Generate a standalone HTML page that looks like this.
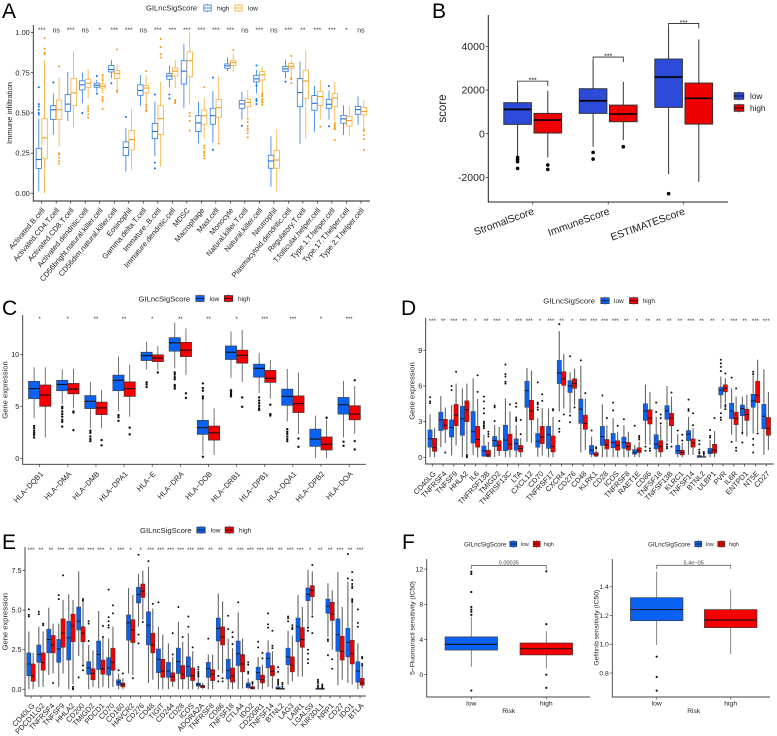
<!DOCTYPE html>
<html lang="en">
<head>
<meta charset="utf-8">
<title>Immune infiltration panels</title>
<style>
html,body{margin:0;padding:0;background:#fff;}
#figure{display:block;width:777px;height:736px;font-family:"Liberation Sans",Arial,sans-serif;filter:blur(0.3px);}
text{font-family:"Liberation Sans",Arial,sans-serif;}
</style>
</head>
<body>
<svg id="figure" xmlns="http://www.w3.org/2000/svg" width="777" height="736" viewBox="0 0 777 736">
  <rect x="0" y="0" width="777" height="736" fill="#fff"/>
  <text x="2" y="18" font-size="21" fill="#000">A</text>
  <text x="432" y="18" font-size="21" fill="#000">B</text>
  <text x="2" y="315" font-size="21" fill="#000">C</text>
  <text x="401" y="315" font-size="21" fill="#000">D</text>
  <text x="2" y="549" font-size="21" fill="#000">E</text>
  <text x="402" y="549" font-size="21" fill="#000">F</text>
</svg>
<script>
// Each box row: [q1, median, q3, whiskerLow, whiskerHigh, outliers]
const aCategories = ["Activated.B.cell","Activated.CD4.T.cell","Activated.CD8.T.cell","Activated.dendritic.cell","CD56bright.natural.killer.cell","CD56dim.natural.killer.cell","Eosinophil","Gamma.delta.T.cell","Immature..B.cell","Immature.dendritic.cell","MDSC","Macrophage","Mast.cell","Monocyte","Natural.killer.T.cell","Natural.killer.cell","Neutrophil","Plasmacytoid.dendritic.cell","Regulatory.T.cell","T.follicular.helper.cell","Type.1.T.helper.cell","Type.17.T.helper.cell","Type.2.T.helper.cell"];
const aSignificance = ["***","ns","***","ns","*","***","***","ns","***","***","***","***","***","***","ns","***","ns","***","**","***","***","*","ns"];
const aYTicks = [0,0.25,0.5,0.75,1];
const aHigh = [
[.155,.21,.28,.015,.465,[.66,.555,.54,.52,.50,.49]],
[.46,.52,.545,.365,.62,[.69]],
[.51,.555,.615,.45,.755,[]],
[.643,.675,.70,.56,.75,[.50]],
[.66,.672,.685,.63,.705,[.73,.62]],
[.755,.77,.795,.715,.83,[.685]],
[.235,.285,.32,.135,.405,[.475]],
[.61,.64,.675,.545,.735,[]],
[.34,.385,.435,.23,.57,[.615,.19,.155]],
[.71,.73,.745,.66,.795,[.615,.59]],
[.68,.76,.825,.53,.93,[]],
[.384,.438,.483,.311,.57,[]],
[.43,.483,.529,.315,.635,[.72,.27]],
[.778,.793,.805,.761,.846,[]],
[.529,.556,.577,.46,.63,[.42]],
[.693,.712,.734,.622,.768,[.795,.671,.585,.574,.556]],
[.156,.201,.237,.041,.355,[]],
[.757,.774,.79,.715,.83,[.695]],
[.539,.627,.714,.307,.82,[]],
[.517,.56,.608,.384,.668,[]],
[.529,.554,.585,.459,.64,[.668,.417]],
[.436,.463,.485,.363,.548,[]],
[.492,.521,.541,.425,.602,[]]];
const aLow = [
[.215,.345,.465,0,.83,[.965,.90,.875,.865]],
[.46,.52,.58,.29,.72,[.79,.25,.24,.22,.20,.185]],
[.545,.625,.715,.41,.885,[]],
[.66,.685,.71,.59,.77,[.54,.525,.51,.49,.47]],
[.655,.667,.68,.62,.705,[.735,.72,.705,.60,.585,.575,.525]],
[.715,.745,.765,.645,.80,[.895,.64,.63]],
[.27,.335,.39,.145,.525,[]],
[.625,.655,.67,.55,.735,[.76,.55,.535,.52,.51]],
[.365,.465,.545,.165,.695,[.96,.91,.865,.845]],
[.73,.76,.78,.655,.83,[.58,.57,.56]],
[.725,.825,.88,.55,1,[.50,.48,.45,.39]],
[.43,.483,.519,.342,.591,[.66,.297,.28,.259,.249,.234,.218]],
[.473,.533,.585,.322,.73,[.309]],
[.795,.813,.828,.757,.871,[.892]],
[.539,.566,.587,.477,.643,[.465,.444,.419,.404,.39,.373,.349]],
[.705,.737,.757,.622,.788,[.622,.612,.602,.587,.574,.564,.55]],
[.156,.207,.268,.01,.398,[]],
[.778,.79,.807,.73,.83,[.855,.72,.71,.685]],
[.591,.699,.766,.342,.89,[]],
[.548,.602,.635,.459,.705,[.415]],
[.539,.593,.62,.45,.695,[.436,.425,.415,.405,.398,.332]],
[.419,.452,.479,.357,.539,[]],
[.488,.51,.535,.405,.581,[.398,.388,.363,.338,.27]]];

const bCategories = ["StromalScore","ImmuneScore","ESTIMATEScore"];
const bSignificance = ["***","***","***"];
const bBrackets = [2410,3510,5050];
const bYTicks = [-2000,0,2000,4000];
const bLow = [
[427,1115,1420,-1020,2180,[-1085,-1175,-1280,-1590]],
[930,1510,2060,-600,3300,[-855,-1160]],
[1205,2595,3420,-1860,4825,[-2750]]];
const bHigh = [
[30,625,930,-1085,1970,[-1435,-1635]],
[550,900,1310,-290,2380,[-595]],
[440,1620,2320,-2200,4320,[]]];

const cCategories = ["HLA\u2212DQB1","HLA\u2212DMA","HLA\u2212DMB","HLA\u2212DPA1","HLA\u2212E","HLA\u2212DRA","HLA\u2212DOB","HLA\u2212DRB1","HLA\u2212DPB1","HLA\u2212DQA1","HLA\u2212DPB2","HLA\u2212DOA"];
const cSignificance = ["*","*","**","**","*","**","**","*","***","***","*","***"];
const cYTicks = [0,5,10];
const cLow = [
[5.74,6.7,7.4,3.85,8.75,[3.1,2.9,2.65,2.45,2.25,2.0]],
[6.5,7.1,7.5,5.2,8.55,[4.95,4.8,4.5,4.25,4.0,3.7,3.5,3.05]],
[4.78,5.48,6.03,2.9,7.35,[2.65,2.45,2.1,1.85,1.65]],
[6.5,7.5,8.0,4.55,9.8,[4.15,3.95,3.6]],
[9.4,9.87,10.2,8.55,11.2,[7.3,7.1,6.85]],
[10.3,11.1,11.6,8.65,13.05,[8.25,8.05,7.8,7.6,7.05,6.9,6.7]],
[2.3,2.95,3.65,0.4,5.6,[7.2,6.75,6.5,5.95,5.75,0.15]],
[9.5,10.2,10.8,7.75,12.2,[6.55,6.4,6.25,6.1,5.95]],
[7.8,8.65,9.05,6.25,10.15,[5.85,5.55,5.3,5.05,4.8,4.65]],
[5.1,5.95,6.65,3.55,8.6,[2.8,2.55,2.35,2.1,1.85,1.65]],
[1.15,1.85,2.8,0,4.1,[]],
[4.25,5.15,5.85,2.0,7.45,[1.6,1.2]]];
const cHigh = [
[5.0,6.09,7.05,2.0,8.75,[]],
[6.2,6.65,7.2,4.8,8.6,[4.5,4.4,2.7]],
[4.2,4.85,5.4,2.9,6.55,[1.75,1.25]],
[5.95,6.7,7.35,4.0,9.0,[2.95,2.3]],
[9.3,9.65,9.95,8.5,10.8,[8.25]],
[9.78,10.4,11.15,8.0,12.5,[6.25,5.8]],
[1.75,2.45,3.1,0.3,4.8,[]],
[9.15,9.9,10.4,7.35,12.35,[5.85,4.95]],
[7.3,7.7,8.45,5.75,9.45,[5.15,4.25,4.1]],
[4.4,5.25,6.0,2.35,8.25,[1.9,1.1]],
[.8,1.35,2.05,0,3.7,[3.9]],
[3.7,4.25,5.05,2.35,6.95,[7.5,1.65,.85]]];

const dCategories = ["CD40LG","TNFRSF4","TNFSF9","HHLA2","IL6","TNFRSF13B","TMIGD2","TNFRSF13C","LTA","CXCL12","CD70","TNFRSF17","CXCR4","CD276","CD48","KLRK1","CD28","ICOS","TNFRSF8","RAET1E","CD86","TNFSF18","TNFSF13B","KLRC1","TNFSF14","BTNL2","ULBP1","PVR","IL6R","ENTPD1","NT5E","CD27"];
const dSignificance = ["***","**","***","**","*","**","***","*","***","***","*","***","**","*","***","***","***","***","**","*","**","**","**","**","***","**","**","*","***","**","***","***"];
const dYTicks = [0,3,6,9];
const dLow = [
[.85,1.55,2.3,0,3.6,[5.05,4.7,4.55]],
[2.25,3.15,3.8,.85,5.15,[]],
[1.7,2.5,3.15,.15,4.4,[6.0,5.65]],
[1.85,3.25,4.3,0,5.8,[]],
[1.2,2.15,3.85,.2,6.65,[]],
[.1,.55,.95,0,1.9,[5.1,4.7,4.1,3.7,3,2.85,2.7,2.6,2.45]],
[.9,1.4,1.75,0,2.7,[4.35,4.2,3.05]],
[.55,1.45,2.7,0,4.95,[7.8,7,6.8,6.35,6.2]],
[.6,1.15,1.55,0,2.7,[4.55,4.25,3.35,3.2,3.05]],
[4.2,5.6,6.4,1.3,7.5,[]],
[.85,1.35,2.0,.05,3.3,[6.3,4.6,4.45,4.2,4.0]],
[.75,1.9,2.6,0,4.1,[]],
[6.2,7.1,8.15,3.85,10.6,[11.2,3.05,2.4,2.15]],
[5.45,6.0,6.45,3.7,7.15,[8.5,3.5,2.95]],
[2.85,4.05,4.9,.4,7.7,[8.15]],
[.25,.6,1.0,0,1.75,[2.25]],
[1.0,1.75,2.6,0,4.45,[5.2]],
[.8,1.25,2.0,0,3.3,[4.6,3.95]],
[.75,1.25,1.7,0,2.7,[3.2]],
[.25,.4,.65,0,1.05,[2.65]],
[3.1,3.9,4.5,1.1,6.1,[.9,.55]],
[.7,1.1,1.9,0,3.4,[4.6,3.8]],
[3.2,3.9,4.35,1.3,6.0,[1.1,.9,.75]],
[.3,.55,1.0,0,1.95,[2.25]],
[1.4,1.95,2.25,.2,3.4,[4.85,4.05,3.9]],
[0,.03,.15,0,.35,[1.4,1.1,.65,.45,.35]],
[.3,.45,.75,0,1.45,[2.3,1.8,1.65]],
[5.25,5.65,5.9,4.1,6.8,[8.2,7.9,7.6,7.25,3.7,3.35,3.15]],
[3.25,3.9,4.55,1.9,5.8,[6.7,1.3]],
[3.5,4.1,4.4,1.9,5.1,[2.05,1.25]],
[4.2,4.75,5.3,2.0,6.9,[7.2,7.0,1.55,1.05,.4]],
[2.4,3.45,4.45,.2,7.4,[]]];
const dHigh = [
[.5,.8,1.6,0,2.45,[]],
[2.35,2.7,3.2,1.2,4.2,[.4]],
[2.65,3.55,4.45,1.0,6.2,[7.2]],
[3.0,4.0,4.75,.35,6.2,[.2,.1,0]],
[.85,1.5,2.6,0,4.9,[6.9,5.5]],
[.05,.2,.6,0,1.3,[2.15,1.95,1.75]],
[.55,1.0,1.4,.1,2.55,[]],
[.65,1.1,1.95,0,3.85,[4.45]],
[.45,.75,1.0,0,1.6,[3.15,1.95]],
[3.15,3.9,4.8,1.2,7.3,[]],
[1.15,1.7,2.6,.15,4.15,[5.3,4.75]],
[.45,.9,1.8,0,3.4,[4.05,3.95]],
[6.05,6.6,7.2,4.1,8.7,[3.6]],
[5.8,6.2,6.6,4.4,7.45,[4.2]],
[2.35,2.85,3.55,.6,4.95,[5.4]],
[.1,.25,.4,0,.6,[.85,.75]],
[.7,1.05,1.5,0,2.7,[3.3]],
[.6,1.0,1.4,0,2.15,[2.65]],
[.6,.9,1.25,0,2.15,[]],
[.4,.55,.8,0,1.3,[1.8,1.65,1.5]],
[2.8,3.3,4.0,1.05,5.5,[.75,.55]],
[.45,.9,1.4,0,2.7,[3.6,3.3,2.85]],
[2.65,3.3,3.7,1.2,5.1,[5.45,.9]],
[.2,.4,.6,0,1.2,[1.9,1.4]],
[.85,1.2,1.55,.2,2.45,[3.7,2.7]],
[0,.03,.06,0,.1,[.45,.35,.2]],
[.35,.6,1.1,0,2.2,[3.3]],
[5.5,5.8,6.1,4.55,6.65,[7.05,4.4,4.25,4.05]],
[2.75,3.25,3.8,1.3,5.1,[5.8,.8,.55]],
[3.1,3.6,4.05,1.75,5.25,[]],
[4.6,5.2,6.4,2.15,8.2,[2.0]],
[1.85,2.4,3.35,.6,5.5,[]]];

const eCategories = ["CD40LG","PDCD1LG2","TNFRSF4","TNFSF9","HHLA2","CD200","TMIGD2","PDCD1","CD70","CD160","HAVCR2","CD276","CD48","TIGIT","CD244","CD28","ICOS","ADORA2A","TNFRSF8","CD86","TNFSF18","CTLA4","IDO2","CD200R1","TNFSF14","BTNL2","LAG3","LAIR1","LGALS9","KIR3DL1","NRP1","CD27","IDO1","BTLA"];
const eSignificance = ["***","**","**","***","**","***","***","***","*","***","*","*","***","***","***","***","***","***","**","**","**","***","***","***","***","**","***","***","*","**","**","***","**","***"];
const eYTicks = [0,2.5,5,7.5];
const eLow = [
[.85,1.6,2.3,0,3.65,[5.05,4.7,4.6]],
[1.7,2.2,2.8,.15,3.95,[4.9,4.75]],
[2.3,3.15,3.8,.9,5.15,[]],
[1.7,2.55,3.15,.15,4.15,[5.95,5.7]],
[1.85,3.25,4.3,0,6.0,[]],
[3.75,4.3,5.2,2.1,7.45,[.75]],
[.95,1.35,1.75,0,2.8,[4.3,4.15,3.05]],
[1.25,2.2,3.05,.05,4.95,[]],
[.9,1.35,2.0,.05,3.2,[6.3,4.55,4.3,4.05,3.9]],
[.25,.45,.6,0,1.0,[1.2]],
[3.1,4.2,4.7,1.0,6.4,[]],
[5.45,6.0,6.45,3.95,7.3,[8.5,3.45,2.9]],
[2.8,4.05,4.9,.4,7.75,[8.1]],
[1.05,1.9,2.55,0,3.95,[5.5]],
[.75,1.15,1.7,0,2.9,[]],
[1.0,1.75,2.6,0,4.25,[5.2]],
[.8,1.45,2.05,0,3.55,[4.6,3.95]],
[.2,.3,.4,0,.7,[1.4,1.25,1.1,1.0,.9,.8]],
[.75,1.3,1.7,0,2.2,[3.2]],
[3.05,3.85,4.5,1.2,6.05,[.85,.5]],
[.65,1.2,1.9,0,3.2,[4.65,3.8]],
[1.5,2.25,3.05,0,4.85,[5.5]],
[.1,.25,.4,0,.7,[1.7,1.55,1.1,1.0]],
[.6,1.05,1.4,0,2.05,[3.0,2.65]],
[1.35,1.95,2.3,.15,3.1,[4.8,4.1,3.9]],
[0,.05,.15,0,.3,[1.4,1.1,.6,.5,.4,.3]],
[1.55,2.05,2.6,.3,3.7,[4.6,4.5,4.3]],
[3.0,3.95,4.5,.8,5.95,[]],
[5.6,6.0,6.4,3.95,7.55,[3.9,3.7,2.5,2.25,1.9,1.65]],
[0,.02,.08,0,.1,[.6,.5,.4,.25,.15]],
[4.8,5.25,5.7,3.3,6.7,[3.15,3.05,2.15]],
[2.4,3.45,4.45,.25,7.4,[]],
[2.05,2.95,3.85,.4,6.8,[8.55,7.0]],
[.45,1.15,1.75,0,2.9,[5.05,4.2,3.95]]];
const eHigh = [
[.5,.85,1.6,0,2.3,[]],
[1.2,1.7,2.3,.15,3.65,[4.15,4.05]],
[2.3,2.8,3.4,1.0,4.15,[.4]],
[2.65,3.55,4.45,1.0,5.65,[7.2]],
[3.0,4.0,4.75,.3,5.65,[.15,.05,0]],
[3.0,3.55,3.95,1.55,5.65,[5.7,5.6,1.5,1.2]],
[.6,1.0,1.3,.15,2.45,[]],
[.95,1.3,1.85,.15,3.3,[4.0,3.3]],
[1.2,1.7,2.6,.15,3.95,[5.3,4.8]],
[.15,.3,.4,0,.7,[1.0]],
[2.95,3.75,4.4,.9,5.95,[.7]],
[5.8,6.2,6.65,4.4,7.5,[4.25]],
[2.3,2.8,3.55,.6,5.1,[5.4]],
[.75,1.15,1.9,0,3.45,[]],
[.5,.8,1.05,.15,2.05,[3.55,2.2]],
[.65,.95,1.5,0,3.0,[3.3]],
[.55,.85,1.35,0,2.4,[2.65]],
[.1,.2,.25,0,.4,[]],
[.55,.95,1.25,0,2.2,[]],
[2.8,3.3,3.95,1.0,5.55,[.7,.5]],
[.45,.85,1.35,0,2.6,[3.6,3.3,2.85]],
[1.1,1.6,2.2,.05,3.2,[]],
[.02,.08,.17,0,.27,[.45,.35]],
[.4,.6,.9,0,1.55,[2.3,1.95]],
[.85,1.15,1.5,.05,2.4,[3.7,2.75,2.6]],
[0,.03,.06,0,.08,[.4,.3,.15]],
[1.1,1.5,2.05,.5,3.4,[4.05,3.9,3.8]],
[2.65,3.15,3.9,.8,5.2,[]],
[5.85,6.25,6.55,4.7,7.45,[7.85,4.6,3.55]],
[0,.02,.06,0,.08,[.3,.2,.1]],
[4.35,4.75,5.5,2.5,6.25,[1.9,1.3]],
[1.85,2.4,3.35,.6,5.2,[]],
[1.6,2.25,3.1,.3,5.4,[7.4,6.9,6.65,6.5,6.4,5.7,5.6,5.5]],
[.25,.4,.7,.05,1.45,[2.05,1.95,1.6,1.5]]];

const f1Categories = ["low","high"];
const f1YTicks = [0,4,8,12];
const f1PValue = "0.00035";
const f1Bracket = [12.4];
const f1Boxes = [
[2.8,3.45,4.3,.9,6.6,[6.8,7.15,7.4,7.7,9.4,11.45,11.7,-1.8]],
[2.25,2.95,3.6,.7,4.95,[5.75,11.75,0,-1.5]]];

const f2Categories = ["low","high"];
const f2YTicks = [0.8,1.0,1.2,1.4];
const f2PValue = "5.4e\u221205";
const f2Bracket = [1.549];
const f2Boxes = [
[1.164,1.241,1.324,.995,1.505,[.914,.773,.678]],
[1.116,1.169,1.241,.933,1.38,[]]];

const svg = document.getElementById('figure');
const NS = 'http://www.w3.org/2000/svg';

function make(tag, attrs, parent, content) {
  const node = document.createElementNS(NS, tag);
  for (const key in attrs) node.setAttribute(key, attrs[key]);
  if (content !== undefined) node.textContent = content;
  parent.appendChild(node);
  return node;
}

function makeScaleY(originPx, pxPerUnit) {
  return function (v) { return originPx - v * pxPerUnit; };
}
function makeScaleX(firstPx, stepPx) {
  return function (i) { return firstPx + i * stepPx; };
}

function drawAxes(p, parent) {
  const g = make('g', {}, parent);
  
  
  const yLine = make('line', {x1: p.left, x2: p.left, y1: p.top, y2: p.bottom, stroke: p.axisColor, 'stroke-width': p.axisWidth}, g);
  
  
  const xLine = make('line', {x1: p.left - p.axisWidth / 2, x2: p.right, y1: p.bottom, y2: p.bottom, stroke: p.axisColor, 'stroke-width': p.axisWidth}, g);
  
  
  p.yTicks.forEach(function (v) {
    const py = p.y(v);
    const tick = make('line', {x1: p.left - 2.5, x2: p.left, y1: py, y2: py, stroke: p.axisColor, 'stroke-width': .7}, g);
    
    
    const label = make('text', {x: p.left - 3.5, y: py + p.tickFont * .35, 'text-anchor': 'end', 'font-size': p.tickFont, fill: '#222'}, g, p.fmt(v));
    
    
  });
  p.categories.forEach(function (c, i) {
    const px = p.x(i);
    const tick = make('line', {x1: px, x2: px, y1: p.bottom, y2: p.bottom + 2.5, stroke: p.axisColor, 'stroke-width': .7}, g);
    
    
    let label;
    if (p.labelAngle) {
      const ax = px + p.labelDx, ay = p.bottom + p.labelDy;
      label = make('text', {x: ax, y: ay, 'text-anchor': 'end', 'font-size': p.labelFont, fill: '#222', transform: 'rotate(' + (-p.labelAngle) + ' ' + ax + ' ' + ay + ')'}, g, c);
    } else {
      label = make('text', {x: px, y: p.bottom + 8.5, 'text-anchor': 'middle', 'font-size': p.labelFont, fill: '#222'}, g, c);
    }
    
    
  });
  if (p.yTitle) {
    const ty = make('text', {x: p.yTitleX, y: p.yTitleY, 'text-anchor': 'middle', 'font-size': p.titleFont, fill: '#222', transform: 'rotate(-90 ' + p.yTitleX + ' ' + p.yTitleY + ')'}, g, p.yTitle);
    
    
  }
  if (p.xTitle) {
    const tx = make('text', {x: p.xTitleX, y: p.xTitleY, 'text-anchor': 'middle', 'font-size': p.titleFont, fill: '#222'}, g, p.xTitle);
    
    
  }
}

function drawBox(p, parent, cx, row, style, label) {
  const g = make('g', {}, parent);
  
  
  const q1 = row[0], med = row[1], q3 = row[2], lo = row[3], hi = row[4], outs = row[5];
  const hw = p.boxWidth / 2;
  const whisker = make('path', {d: 'M' + cx + ' ' + p.y(lo) + 'V' + p.y(q1) + 'M' + cx + ' ' + p.y(q3) + 'V' + p.y(hi), stroke: style.whisker, 'stroke-width': p.whiskerWidth, fill: 'none'}, g);
  
  
  const box = make('rect', {x: cx - hw, y: p.y(q3), width: p.boxWidth, height: Math.max(p.y(q1) - p.y(q3), .2), fill: style.fill, stroke: style.stroke, 'stroke-width': p.boxStroke}, g);
  
  
  const median = make('line', {x1: cx - hw, x2: cx + hw, y1: p.y(med), y2: p.y(med), stroke: style.median, 'stroke-width': p.medianWidth}, g);
  
  
  outs.forEach(function (v) {
    const dot = make('circle', {cx: cx, cy: p.y(v), r: p.outlierR, fill: style.outlier}, g);
    
    
  });
}

function drawSignificance(p, parent, labels) {
  labels.forEach(function (s, i) {
    const isNs = s === 'ns';
    const t = make('text', {x: p.x(i), y: isNs ? p.sigY + .5 : p.sigY, 'text-anchor': 'middle', 'font-size': isNs ? p.sigFont + .4 : p.sigFont, fill: '#333'}, parent, s);
    
    
  });
}

function drawLegend(p, parent, lg) {
  const g = make('g', {}, parent);
  
  
  if (lg.title) {
    const t = make('text', {x: lg.titleX, y: lg.y + lg.titleFont * .36, 'font-size': lg.titleFont, fill: '#222'}, g, lg.title);
    
    
  }
  lg.entries.forEach(function (en) {
    const ey = en.y === undefined ? lg.y : en.y;
    const e = make('g', {}, g);
    
    
    const w = make('line', {x1: en.keyX, x2: en.keyX, y1: ey - lg.keyH / 2 - 1.2, y2: ey + lg.keyH / 2 + 1.2, stroke: en.style.whisker, 'stroke-width': .7}, e);
    
    
    const r = make('rect', {x: en.keyX - lg.keyW / 2, y: ey - lg.keyH / 2, width: lg.keyW, height: lg.keyH, fill: en.style.fill, stroke: en.style.stroke, 'stroke-width': lg.keyStroke}, e);
    
    
    const m = make('line', {x1: en.keyX - lg.keyW / 2, x2: en.keyX + lg.keyW / 2, y1: ey, y2: ey, stroke: en.style.median, 'stroke-width': .8}, e);
    
    
    const t = make('text', {x: en.textX, y: ey + lg.font * .36, 'font-size': lg.font, fill: '#222'}, e, en.label);
    
    
  });
}

function drawGrouped(p, lowRows, highRows, lowStyle, highStyle, lowName, highName, sig, legend) {
  const panel = make('g', {}, svg);
  
  
  lowRows.forEach(function (row, i) {
    drawBox(p, panel, p.x(i) - p.offset, row, lowStyle, lowName + '-' + p.categories[i]);
  });
  highRows.forEach(function (row, i) {
    drawBox(p, panel, p.x(i) + p.offset, row, highStyle, highName + '-' + p.categories[i]);
  });
  drawAxes(p, panel);
  if (sig) drawSignificance(p, panel, sig);
  drawLegend(p, panel, legend);
  return panel;
}

const blueFill = {fill: '#0a62f2', stroke: '#3a3f4a', whisker: '#666', median: '#111', outlier: '#111'};
const redFill = {fill: '#f40000', stroke: '#403030', whisker: '#666', median: '#111', outlier: '#111'};
const hollowBlue = {fill: '#fff', stroke: '#2a7be6', whisker: '#2a7be6', median: '#1f6fe0', outlier: '#0a6cf0'};
const hollowOrange = {fill: '#fff', stroke: '#f7ad3a', whisker: '#f7ad3a', median: '#f59d14', outlier: '#f79a10'};

// Panel A
const panelA = {name: 'panel-a', categories: aCategories, yTicks: aYTicks, left: 33.3, right: 370, top: 25, bottom: 201,
  x: makeScaleX(41.7, 14.51), y: makeScaleY(193.3, 160.7), fmt: function (v) { return v.toFixed(2); },
  axisColor: '#222', axisWidth: .9, tickFont: 7.4, labelFont: 7.5, labelAngle: 50, labelDx: 3.5, labelDy: 9.5, titleFont: 7.6,
  yTitle: 'Immune infiltration', yTitleX: 12, yTitleY: 113, offset: 2.9, boxWidth: 5.4, whiskerWidth: .8, boxStroke: .8, medianWidth: 1.1, outlierR: 1,
  sigY: 32, sigFont: 6.6};
drawGrouped(panelA, aHigh, aLow, hollowBlue, hollowOrange, 'high', 'low', aSignificance,
  {title: 'GILncSigScore', titleX: 146, titleFont: 7.6, y: 8, font: 6.6, keyW: 7.4, keyH: 6, keyStroke: .8,
   entries: [{label: 'high', keyX: 207.5, textX: 217, style: hollowBlue}, {label: 'low', keyX: 238.5, textX: 248, style: hollowOrange}]});

// Panel B
const bLowStyle = {fill: '#2b4bd8', stroke: '#33333f', whisker: '#333', median: '#000', outlier: '#000'};
const bHighStyle = {fill: '#ee0000', stroke: '#333', whisker: '#333', median: '#000', outlier: '#000'};
const panelB = {name: 'panel-b', categories: bCategories, yTicks: bYTicks, left: 488.3, right: 728, top: 15, bottom: 202,
  x: makeScaleX(532.7, 75.5), y: makeScaleY(133.7, .02183), fmt: String,
  axisColor: '#222', axisWidth: 1, tickFont: 10.5, labelFont: 10.4, labelAngle: 20, labelDx: 2, labelDy: 12, titleFont: 11.5,
  yTitle: 'score', yTitleX: 446, yTitleY: 108.5, offset: 15.1, boxWidth: 27.6, whiskerWidth: 1, boxStroke: 1, medianWidth: 1.7, outlierR: 1.8};
const groupB = drawGrouped(panelB, bLow, bHigh, bLowStyle, bHighStyle, 'low', 'high', null,
  {y: 96, font: 8.2, keyW: 9.5, keyH: 6.5, keyStroke: 1,
   entries: [{label: 'low', keyX: 739, textX: 750, y: 96, style: bLowStyle}, {label: 'high', keyX: 739, textX: 750, y: 108, style: bHighStyle}]});
bBrackets.forEach(function (v, i) {
  const py = panelB.y(v), x1 = panelB.x(i) - panelB.offset, x2 = panelB.x(i) + panelB.offset;
  const br = make('path', {d: 'M' + x1 + ' ' + (py + 5) + 'V' + py + 'H' + x2 + 'V' + (py + 5), fill: 'none', stroke: '#222', 'stroke-width': .8}, groupB);
  
  
  const st = make('text', {x: panelB.x(i), y: py + 1.3, 'text-anchor': 'middle', 'font-size': 7, fill: '#222'}, groupB, bSignificance[i]);
  
  
});

function fineLegend(titleX, y, k1, t1, k2, t2) {
  return {title: 'GILncSigScore', titleX: titleX, titleFont: 7.7, y: y, font: 6.5, keyW: 8.4, keyH: 6, keyStroke: .7,
    entries: [{label: 'low', keyX: k1, textX: t1, style: blueFill}, {label: 'high', keyX: k2, textX: t2, style: redFill}]};
}

// Panel C
const panelC = {name: 'panel-c', categories: cCategories, yTicks: cYTicks, left: 22.7, right: 366, top: 315, bottom: 464.3,
  x: makeScaleX(39.7, 28.13), y: makeScaleY(458.3, 10.4), fmt: String,
  axisColor: '#333', axisWidth: .9, tickFont: 7.2, labelFont: 7.5, labelAngle: 47, labelDx: 4, labelDy: 10, titleFont: 7.6,
  yTitle: 'Gene expression', yTitleX: 7.3, yTitleY: 390, offset: 5.6, boxWidth: 11.2, whiskerWidth: .9, boxStroke: .7, medianWidth: 1.1, outlierR: 1.2,
  sigY: 321, sigFont: 6};
drawGrouped(panelC, cLow, cHigh, blueFill, redFill, 'low', 'high', cSignificance, fineLegend(138.5, 298.5, 200, 209.5, 228.5, 238));

// Panel D
const panelD = {name: 'panel-d', categories: dCategories, yTicks: dYTicks, left: 425.7, right: 773.7, top: 318, bottom: 464,
  x: makeScaleX(432.3, 10.77), y: makeScaleY(457.3, 11.89), fmt: String,
  axisColor: '#333', axisWidth: .9, tickFont: 7.2, labelFont: 7.4, labelAngle: 47, labelDx: 4, labelDy: 10, titleFont: 7.6,
  yTitle: 'Gene expression', yTitleX: 414.3, yTitleY: 391, offset: 2.25, boxWidth: 4.3, whiskerWidth: 1.1, boxStroke: .5, medianWidth: .9, outlierR: 1,
  sigY: 323, sigFont: 6};
drawGrouped(panelD, dLow, dHigh, blueFill, redFill, 'low', 'high', dSignificance, fineLegend(543.3, 300.7, 605, 614, 633.7, 642.7));

// Panel E
const panelE = {name: 'panel-e', categories: eCategories, yTicks: eYTicks, left: 25, right: 365.7, top: 547, bottom: 696,
  x: makeScaleX(31, 9.97), y: makeScaleY(689.3, 15.83), fmt: function (v) { return v.toFixed(1); },
  axisColor: '#333', axisWidth: .9, tickFont: 7.2, labelFont: 7.4, labelAngle: 47, labelDx: 4, labelDy: 10, titleFont: 7.6,
  yTitle: 'Gene expression', yTitleX: 7.3, yTitleY: 621.7, offset: 2.15, boxWidth: 4.2, whiskerWidth: 1.1, boxStroke: .5, medianWidth: .9, outlierR: 1,
  sigY: 552, sigFont: 6};
drawGrouped(panelE, eLow, eHigh, blueFill, redFill, 'low', 'high', eSignificance, fineLegend(140, 530, 201, 210.7, 229.3, 239));

// Panel F
function drawF(p, boxes, bracketValue, pText, legendConf) {
  const panel = make('g', {}, svg);
  
  
  drawBox(p, panel, p.x(0), boxes[0], blueFill, 'low');
  drawBox(p, panel, p.x(1), boxes[1], redFill, 'high');
  drawAxes(p, panel);
  drawLegend(p, panel, legendConf);
  const py = p.y(bracketValue[0]);
  const br = make('path', {d: 'M' + p.x(0) + ' ' + (py + 3.7) + 'V' + py + 'H' + p.x(1) + 'V' + (py + 3.7), fill: 'none', stroke: '#666', 'stroke-width': .8}, panel);
  
  
  const t = make('text', {x: (p.x(0) + p.x(1)) / 2, y: py - 1, 'text-anchor': 'middle', 'font-size': 5.6, fill: '#444'}, panel, pText);
  
  
}
function fLegend(titleX, k1, t1, k2, t2) {
  return {title: 'GILncSigScore', titleX: titleX, titleFont: 6.3, y: 544, font: 5.2, keyW: 7, keyH: 5.6, keyStroke: .6,
    entries: [{label: 'low', keyX: k1, textX: t1, style: blueFill}, {label: 'high', keyX: k2, textX: t2, style: redFill}]};
}
const fCommon = {axisColor: '#444', axisWidth: .9, tickFont: 6.8, labelFont: 6.8, labelAngle: 0, titleFont: 6.7, xTitle: 'Risk', xTitleY: 713,
  boxWidth: 52.5, whiskerWidth: .8, boxStroke: .7, medianWidth: 1.1, outlierR: 1.1};
drawF(Object.assign({}, fCommon, {name: 'panel-f-fluorouracil', categories: f1Categories, yTicks: f1YTicks, left: 426.7, right: 590, top: 559, bottom: 697,
  x: makeScaleX(471.3, 75), y: makeScaleY(674.7, 8.8), fmt: String,
  yTitle: '5\u2212Fluorouracil sensitivity (IC50)', yTitleX: 414.4, yTitleY: 628, xTitleX: 508.7}), f1Boxes, f1Bracket, f1PValue, fLegend(464, 513.3, 521, 536.7, 544));
drawF(Object.assign({}, fCommon, {name: 'panel-f-gefitinib', categories: f2Categories, yTicks: f2YTicks, left: 612.3, right: 770, top: 559, bottom: 697,
  x: makeScaleX(656.7, 74), y: (function () { const s = makeScaleY(644.3, 143.9); return function (v) { return s(v - 1); }; })(), fmt: function (v) { return v.toFixed(1); },
  yTitle: 'Gefitinib sensitivity (IC50)', yTitleX: 598.4, yTitleY: 627.7, xTitleX: 693.7}), f2Boxes, f2Bracket, f2PValue, fLegend(648, 698.3, 706, 721.3, 729));
</script>
</body>
</html>
